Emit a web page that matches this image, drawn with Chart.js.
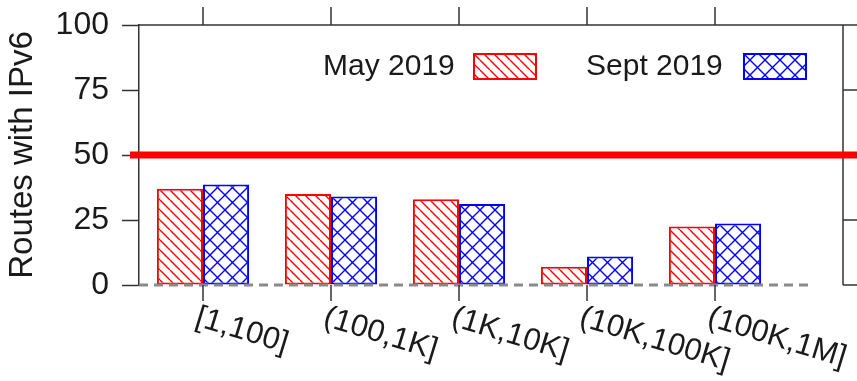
<!DOCTYPE html>
<html>
<head>
<meta charset="utf-8">
<script src="https://cdn.jsdelivr.net/npm/chart.js@4/dist/chart.umd.min.js"></script>
<style>
  html, body { margin: 0; padding: 0; background: #fff; }
  canvas { display: block; }
</style>
</head>
<body>
<canvas id="c" width="857" height="381"></canvas>
<script>
// Route-size buckets and share of routes carrying IPv6 (%)
const categories = ['[1,100]', '(100,1K]', '(1K,10K]', '(10K,100K]', '(100K,1M]'];
const may2019 = [37, 35, 33, 7, 22.5];
const sept2019 = [38.7, 34, 31.2, 11, 23.7];
const seriesNames = ['May 2019', 'Sept 2019'];
const yTicks = [0, 25, 50, 75, 100];
const threshold = 50;

const FONT = "'Liberation Sans', Arial, Helvetica, sans-serif";
const AXIS = '#333';
const TEXT = '#1a1a1a';

function hatch(color, size, cross) {
  const c = document.createElement('canvas');
  c.width = c.height = size;
  const g = c.getContext('2d');
  g.fillStyle = '#fff';
  g.fillRect(0, 0, size, size);
  g.strokeStyle = color;
  g.lineWidth = 1.4;
  g.beginPath();
  for (const o of [-size, 0, size]) {
    g.moveTo(o, 0); g.lineTo(o + size, size);
    if (cross) { g.moveTo(o + size, 0); g.lineTo(o, size); }
  }
  g.stroke();
  return g.createPattern(c, 'repeat');
}

const redHatch = hatch('#ff0000', 10, false);
const blueCross = hatch('#0000ff', 15, true);

const toPoints = arr => arr.map((v, i) => ({ x: i, y: v }));

const frame = {
  id: 'frame',
  afterDatasetsDraw(chart) {
    const { ctx, chartArea: a, scales: { x, y } } = chart;
    ctx.save();
    ctx.lineCap = 'butt';

    // dashed baseline at zero
    ctx.strokeStyle = '#8a8a8a';
    ctx.lineWidth = 3;
    ctx.setLineDash([9, 6]);
    ctx.beginPath();
    ctx.moveTo(a.left, y.getPixelForValue(0));
    ctx.lineTo(a.right - 30, y.getPixelForValue(0));
    ctx.stroke();
    ctx.setLineDash([]);

    // top and right borders with mirrored ticks
    ctx.strokeStyle = AXIS;
    ctx.lineWidth = 1.5;
    ctx.beginPath();
    ctx.moveTo(a.left, a.top); ctx.lineTo(a.right, a.top);
    ctx.moveTo(a.right, a.top); ctx.lineTo(a.right, a.bottom);
    for (const t of yTicks) {
      const py = y.getPixelForValue(t);
      ctx.moveTo(a.right, py); ctx.lineTo(a.right + 15, py);
    }
    categories.forEach((_, i) => {
      const px = x.getPixelForValue(i);
      ctx.moveTo(px, a.top - 18); ctx.lineTo(px, a.top);
      ctx.moveTo(px, a.bottom); ctx.lineTo(px, a.bottom + 16);
    });
    ctx.stroke();

    // reference line at 50 %
    const ty = y.getPixelForValue(threshold);
    ctx.strokeStyle = '#ff0000';
    ctx.lineWidth = 7;
    ctx.beginPath();
    ctx.moveTo(a.left - 9, ty);
    ctx.lineTo(chart.width, ty);
    ctx.stroke();

    // slanted category labels
    ctx.fillStyle = TEXT;
    ctx.font = '31px ' + FONT;
    ctx.textAlign = 'left';
    ctx.textBaseline = 'top';
    categories.forEach((label, i) => {
      const px = x.getPixelForValue(i);
      ctx.save();
      ctx.translate(px - 2, a.bottom + 17);
      ctx.rotate(17 * Math.PI / 180);
      ctx.fillText(label, 0, 0);
      ctx.restore();
    });

    // legend: label text followed by a swatch
    const items = [
      { text: chart.data.datasets[0].label, tx: 323, bx: 474, fill: redHatch, stroke: '#ff0000' },
      { text: chart.data.datasets[1].label, tx: 586, bx: 744, fill: blueCross, stroke: '#0000ff' }
    ];
    ctx.font = '30px ' + FONT;
    ctx.textBaseline = 'middle';
    for (const it of items) {
      ctx.fillStyle = TEXT;
      ctx.fillText(it.text, it.tx, 67);
      ctx.fillStyle = it.fill;
      ctx.fillRect(it.bx, 54, 62, 25);
      ctx.strokeStyle = it.stroke;
      ctx.lineWidth = 2;
      ctx.strokeRect(it.bx, 54, 62, 25);
    }
    ctx.restore();
  }
};

new Chart(document.getElementById('c'), {
  type: 'bar',
  data: {
    datasets: [
      { label: seriesNames[0], data: toPoints(may2019), backgroundColor: redHatch,
        borderColor: '#ff0000', borderWidth: 2, borderSkipped: false },
      { label: seriesNames[1], data: toPoints(sept2019), backgroundColor: blueCross,
        borderColor: '#0000ff', borderWidth: 2, borderSkipped: false }
    ]
  },
  options: {
    responsive: false,
    animation: false,
    categoryPercentage: 0.72,
    barPercentage: 1.0,
    layout: { padding: { left: 3, right: 14, top: 25, bottom: 96 } },
    plugins: { legend: { display: false }, tooltip: { enabled: false } },
    scales: {
      x: {
        type: 'linear',
        min: -0.5,
        max: 5,
        offset: false,
        display: false,
        afterBuildTicks: scale => { scale.ticks = categories.map((_, i) => ({ value: i })); }
      },
      y: {
        min: 0,
        max: 100,
        afterBuildTicks: scale => { scale.ticks = yTicks.map(v => ({ value: v })); },
        afterFit: scale => { scale.paddingTop = 0; scale.paddingBottom = 0; },
        ticks: { font: { family: FONT, size: 32 }, color: TEXT, padding: 13 },
        grid: { drawOnChartArea: false, drawTicks: true, tickLength: 17, tickColor: AXIS, tickWidth: 1.5 },
        border: { color: AXIS, width: 1.5 },
        title: { display: true, text: 'Routes with IPv6', color: TEXT,
                 font: { family: FONT, size: 33 }, padding: { top: 0, bottom: 0 } }
      }
    }
  },
  plugins: [frame]
});
</script>
</body>
</html>
